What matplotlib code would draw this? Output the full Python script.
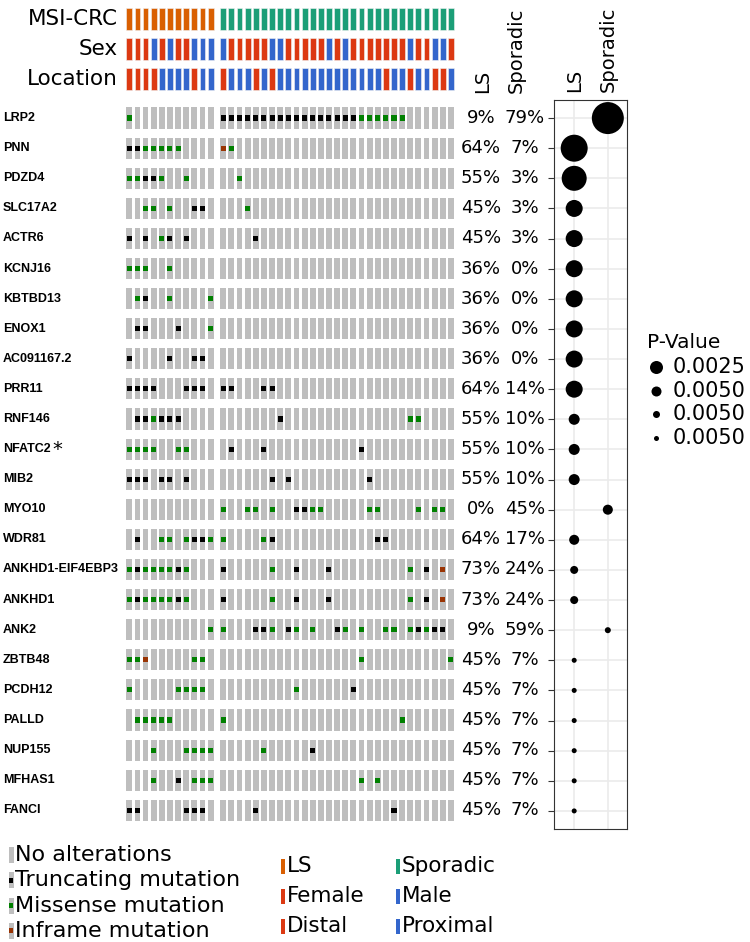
import numpy as np
import matplotlib.pyplot as plt
from matplotlib.patches import Rectangle
from matplotlib.transforms import blended_transform_factory

# ---- data ----
genes = ["LRP2", "PNN", "PDZD4", "SLC17A2", "ACTR6", "KCNJ16", "KBTBD13", "ENOX1",
         "AC091167.2", "PRR11", "RNF146", "NFATC2", "MIB2", "MYO10", "WDR81",
         "ANKHD1-EIF4EBP3", "ANKHD1", "ANK2", "ZBTB48", "PCDH12", "PALLD",
         "NUP155", "MFHAS1", "FANCI"]

# T = truncating, M = missense, I = inframe, . = no alteration
ls_muts = [
    "M..........", "TTMMMMM....", "MMTTM..M...", "..MM.M..TT.", "T.T.MT.T...",
    "MMM..M.....", ".MT..M....M", ".TT...T...M", "T....T..TT.", "TTTT...TTT.",
    ".TTMTTT....", "MMMM..MM...", "TTT.TT.T...", "...........", ".T..MM.MTTM",
    "MTMMMMTM...", "MTMMMMTM...", "..........M", "MMI.....MM.", "M.....MMMM.",
    ".MMMMM.....", "...M...MMMM", "...M..T.MMM", "TT.....TTT.",
]
spor_muts = [
    "TTTTTTTTTTTTTTTTTMMMMMM......",
    "IM...........................",
    "..M..........................",
    "...M.........................",
    "....T........................",
    ".............................",
    ".............................",
    ".............................",
    ".............................",
    "TT...TT......................",
    ".......T...............MM....",
    ".T...T...........T...........",
    "......T.T.........T..........",
    "M..MM.M..TTMM.....MM....M.MM.",
    "M....MT............TT........",
    "T.....M..T...T.........M.T.I.",
    "T.....M..T...T.........M.T.I.",
    "M...TTM.TM.M..TM.M..MM.MTMTT.",
    ".................M..........M",
    ".........M......T............",
    "M.....................M......",
    ".....M.....T.................",
    ".................M.M.........",
    "....T................T.......",
]

sex_ls = ["F", "F", "F", "M", "F", "M", "F", "F", "M", "M", "M"]
sex_spor = ["M", "F", "F", "F", "F", "F", "M", "M", "F", "F", "F", "F", "F", "M", "F",
            "M", "F", "F", "F", "F", "F", "F", "F", "M", "F", "F", "M", "M", "F"]
loc_ls = ["D", "D", "D", "D", "P", "P", "P", "P", "D", "P", "P"]
loc_spor = ["D", "P", "P", "P", "D", "P", "D", "P", "P", "P", "P", "P", "P", "P", "P",
            "P", "P", "P", "P", "P", "D", "P", "P", "D", "P", "P", "D", "D", "P"]

# enrichment test per gene
enriched_in = ["Sporadic", "LS", "LS", "LS", "LS", "LS", "LS", "LS", "LS", "LS",
               "LS", "LS", "LS", "Sporadic", "LS", "LS", "LS", "Sporadic",
               "LS", "LS", "LS", "LS", "LS", "LS"]
pvals = [1e-10, 1.9e-8, 1.2e-7, 4.6e-5, 4.6e-5, 4.6e-5, 4.6e-5, 4.6e-5, 4.6e-5, 4.6e-5,
         9.1e-4, 9.1e-4, 9.1e-4, 1.3e-3, 1.3e-3, 2.5e-3, 2.5e-3, 4.1e-3,
         5e-3, 5e-3, 5e-3, 5e-3, 5e-3, 5e-3]
legend_labels = ["0.0025", "0.0050", "0.0050", "0.0050"]

# ---- colours ----
c_gray = "#BEBEBE"
mut_col = {"T": "black", "M": "#008000", "I": "#993404"}
grp_col = {"LS": "#D95F02", "Sporadic": "#1B9E77"}
red, blue = "#DC3912", "#3366CC"
sex_col = {"F": red, "M": blue}
loc_col = {"D": red, "P": blue}

W, H = 750, 942
fig = plt.figure(figsize=(W / 100, H / 100), dpi=100)


def px_axes(x0, y0, x1, y1):
    return fig.add_axes([x0 / W, 1 - y1 / H, (x1 - x0) / W, (y1 - y0) / H])


# ---- oncoprint ----
n_ls, n_sp = len(sex_ls), len(sex_spor)
xpos = np.r_[np.arange(n_ls), n_ls + 0.56 + np.arange(n_sp)]
pitch_x, x0_px = 8.13, 129.3
pitch_y, y0_px = 30.1, 118

ax = px_axes(120, 0, 460, 850)
ax.set_xlim((120 - x0_px) / pitch_x, (460 - x0_px) / pitch_x)
ax.set_ylim((850 - y0_px) / pitch_y, (0 - y0_px) / pitch_y)
ax.axis("off")

rows = np.arange(len(genes))
for i, g in enumerate(genes):
    codes = list(ls_muts[i]) + list(spor_muts[i])
    ax.bar(xpos, 0.7, bottom=i - 0.35, width=0.72, color=c_gray, linewidth=0)
    for code, c in mut_col.items():
        sel = np.array([k == code for k in codes])
        if sel.any():
            ax.bar(xpos[sel], 0.17, bottom=i - 0.085, width=0.62, color=c, linewidth=0)

groups = ["LS"] * n_ls + ["Sporadic"] * n_sp
tracks = [("MSI-CRC", [grp_col[g] for g in groups]),
          ("Sex", [sex_col[s] for s in sex_ls + sex_spor]),
          ("Location", [loc_col[s] for s in loc_ls + loc_spor])]
tr_fig = blended_transform_factory(fig.transFigure, ax.transData)
for k, (name, cols) in enumerate(tracks):
    yc = -3.3 + k
    ax.bar(xpos, 0.73, bottom=yc - 0.365, width=0.72, color=cols,
           edgecolor="#f2f2f2", linewidth=0.4)
    ax.text(118 / W, yc, name, transform=tr_fig, ha="right", va="center",
            fontsize=15.5, family="DejaVu Sans")

# gene labels and percentages
for i, g in enumerate(genes):
    t = ax.text(3 / W, i, g, transform=tr_fig, ha="left", va="center",
                fontsize=9, fontweight="bold", family="Liberation Sans")
    if g == "NFATC2":
        ax.annotate("*", xy=(1, 0.5), xycoords=t, xytext=(1, 0),
                    textcoords="offset points", ha="left", va="center", fontsize=14)
    n1 = sum(ch != "." for ch in ls_muts[i])
    n2 = sum(ch != "." for ch in spor_muts[i])
    ax.text(481 / W, i, f"{round(100 * n1 / n_ls)}%", transform=tr_fig,
            ha="center", va="center", fontsize=13)
    ax.text(525 / W, i, f"{round(100 * n2 / n_sp)}%", transform=tr_fig,
            ha="center", va="center", fontsize=13)

fig.text(483 / W, 1 - 93 / H, "LS", rotation=90, ha="center", va="bottom", fontsize=14)
fig.text(516 / W, 1 - 93 / H, "Sporadic", rotation=90, ha="center", va="bottom",
         fontsize=14)

# ---- dot plot of p-values ----
dx = px_axes(554, 100, 627, 829)
cats = ["LS", "Sporadic"]
dx.set_xlim(-0.6, 1.57)
dx.set_ylim(len(genes) - 1 + 0.6, -0.6)
dx.set_facecolor("white")
for v in range(len(cats)):
    dx.axvline(v, color="#EBEBEB", lw=1.2, zorder=0)
for r in rows:
    dx.axhline(r, color="#EBEBEB", lw=1.2, zorder=0)
score = -np.log10(pvals)
dmin, dmax = 5 * 0.72, 32 * 0.72
area = dmin ** 2 + (score - score.min()) / (score.max() - score.min()) * (dmax ** 2 - dmin ** 2)
dx.scatter([cats.index(e) for e in enriched_in], rows, s=area, color="black",
           linewidths=0, zorder=3)
dx.set_xticks(range(len(cats)))
dx.set_xticklabels(cats, rotation=90, fontsize=14)
dx.xaxis.tick_top()
dx.tick_params(axis="x", length=0, pad=6)
dx.set_yticks(rows)
dx.set_yticklabels([])
dx.tick_params(axis="y", length=4, width=0.8, color="#333333")
for s in dx.spines.values():
    s.set_color("#333333")
    s.set_linewidth(0.8)

# ---- legends (pixel overlay) ----
lay = fig.add_axes([0, 0, 1, 1])
lay.set_xlim(0, W)
lay.set_ylim(H, 0)
lay.axis("off")

lay.text(647, 343, "P-Value", ha="left", va="center", fontsize=14.5)
leg_d = [13, 10, 7, 5]
for k, (lab, d) in enumerate(zip(legend_labels, leg_d)):
    yy = [367, 391, 414, 438][k]
    lay.scatter([656], [yy], s=(d * 0.72) ** 2, color="black", linewidths=0)
    lay.text(673, yy, lab, ha="left", va="center", fontsize=15)

alt_items = [("No alterations", None), ("Truncating mutation", mut_col["T"]),
             ("Missense mutation", mut_col["M"]), ("Inframe mutation", mut_col["I"])]
for k, (lab, c) in enumerate(alt_items):
    yy = 855 + 25.3 * k
    lay.add_patch(Rectangle((8.5, yy - 8), 5, 16, color=c_gray, lw=0))
    if c is not None:
        lay.add_patch(Rectangle((9, yy - 2.5), 4, 5, color=c, lw=0))
    lay.text(15, yy, lab, ha="left", va="center", fontsize=16)

col2 = [("LS", grp_col["LS"]), ("Female", red), ("Distal", red)]
col3 = [("Sporadic", grp_col["Sporadic"]), ("Male", blue), ("Proximal", blue)]
for xg, items in [(281, col2), (396, col3)]:
    for k, (lab, c) in enumerate(items):
        yy = 866 + 30 * k
        lay.add_patch(Rectangle((xg, yy - 7.5), 3.5, 15, color=c, lw=0))
        lay.text(xg + 6, yy, lab, ha="left", va="center", fontsize=15.5)

fig.savefig("out.png", dpi=100)
